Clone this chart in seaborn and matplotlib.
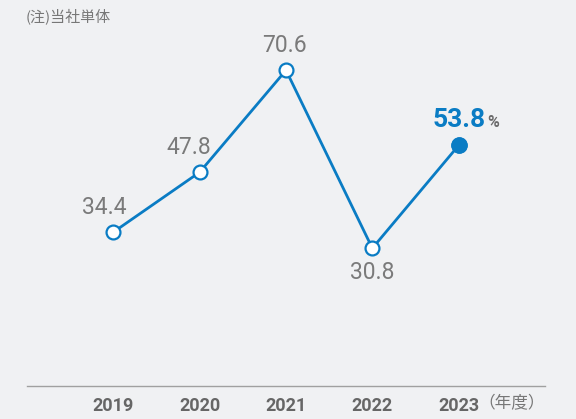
import matplotlib
matplotlib.use("Agg")
import matplotlib.pyplot as plt
import seaborn as sns
import pandas as pd

years = ["2019", "2020", "2021", "2022", "2023"]
values = [34.4, 47.8, 70.6, 30.8, 53.8]
label_dy = [1, 1, 1, -1, 1]        # above / below
label_dx = [-6.5, -7.5, -1, 0, 0]  # horizontal nudge (points)

BG = "#f0f1f3"
BLUE = "#0a7cc4"
GRAY = "#7a7a7a"

sns.set_theme(style="white")
plt.rcParams['font.family'] = ['Roboto', 'Noto Sans CJK JP', 'DejaVu Sans']

df = pd.DataFrame({"x": list(range(len(years))), "year": years, "value": values})

fig = plt.figure(figsize=(5.76, 4.19), dpi=100)
fig.patch.set_facecolor(BG)
ax = fig.add_axes([27/576, (419-386)/419, 518/576, 386/419])
ax.set_facecolor(BG)

sns.lineplot(data=df, x="x", y="value", ax=ax, color=BLUE, linewidth=2.0,
             marker="o", markersize=10, markerfacecolor="white",
             markeredgecolor=BLUE, markeredgewidth=1.6)
last = df.iloc[-1]
ax.plot([last["x"]], [last["value"]], marker="o", markersize=11,
        color=BLUE, zorder=5)

ax.set_xlim(-1, 5)
ax.set_ylim(0, 86.3)
for s in ["top", "right", "left"]:
    ax.spines[s].set_visible(False)
ax.spines["bottom"].set_color("#a0a0a0")
ax.spines["bottom"].set_linewidth(1.0)
ax.set_yticks([])
ax.set_xticks(df["x"])
ax.set_xticklabels(years, fontsize=13, fontweight="bold", color="#666666")
ax.tick_params(axis="x", length=0, pad=8)
ax.set_xlabel("")
ax.set_ylabel("")

for i, (v, dy, dx) in enumerate(zip(values, label_dy, label_dx)):
    if i == len(values) - 1:
        continue
    ax.annotate(f"{v:.1f}", (i, v), xytext=(dx, 17.5 * dy), textcoords="offset points",
                ha="center", va="center", fontsize=16.5, color=GRAY)

i = len(values) - 1
ax.annotate(f"{values[i]:.1f}", (i, values[i]), xytext=(0, 18), textcoords="offset points",
            ha="center", va="center", fontsize=19, fontweight="bold", color=BLUE)
ax.annotate("%", (i, values[i]), xytext=(25, 16.5), textcoords="offset points",
            ha="center", va="center", fontsize=11.5, fontweight="bold", color="#6a6a6a")

fig.text(512/576, 1 - 404/419, "（年度）", ha="center", va="center", fontsize=12,
         color="#777777", family=['Noto Sans CJK JP', 'DejaVu Sans'])
fig.text(26/576, 1 - 16/419, "(注)当社単体", ha="left", va="center", fontsize=10.8,
         color="#777777", family=['Noto Sans CJK JP', 'DejaVu Sans'])

fig.savefig("out.png", dpi=100, facecolor=BG)
